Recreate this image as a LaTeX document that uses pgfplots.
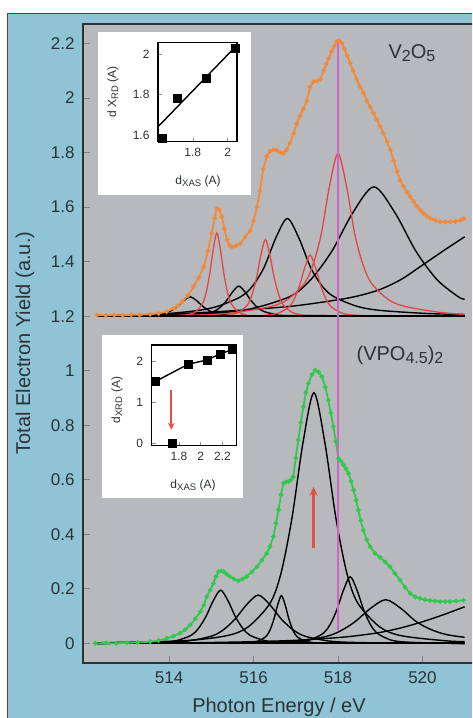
\documentclass[border=0pt]{standalone}
\usepackage{fontspec}
\setmainfont{Liberation Sans}
\usepackage{pgfplots}
\pgfplotsset{compat=1.18}
\usetikzlibrary{arrows.meta}

\definecolor{bgblue}{RGB}{142,196,214}
\definecolor{plotgray}{RGB}{183,185,188}
\definecolor{framered}{RGB}{140,40,60}
\definecolor{specorange}{RGB}{240,138,60}
\definecolor{specgreen}{RGB}{50,200,80}
\definecolor{peakred}{RGB}{226,70,70}
\definecolor{edgepink}{RGB}{205,100,200}
\definecolor{arrowred}{RGB}{225,80,70}
\definecolor{inktext}{RGB}{45,50,55}

\newcommand{\sub}[1]{\raisebox{-0.35ex}{\fontsize{16}{16}\selectfont #1}}
\newcommand{\isub}[1]{\raisebox{-0.3ex}{\fontsize{9.5}{9.5}\selectfont #1}}

\pgfplotsset{
  blackfit/.style={black, line width=1.4pt, smooth},
  redfit/.style={peakred, line width=1.3pt, smooth},
  inset/.style={
    anchor=south west, scale only axis,
    axis line style={black, line width=1.2pt},
    tick align=inside, xtick pos=left, ytick pos=left,
    major tick length=4pt, tick style={black!45, line width=0.6pt},
    ticklabel style={font=\fontsize{12}{12}\selectfont, text=inktext},
    xticklabel style={yshift=-3pt},
    yticklabel style={xshift=-5pt},
    /pgf/number format/assume math mode=true,
    clip=false,
  },
}

\begin{document}
\begin{tikzpicture}[x=1pt,y=1pt]
\useasboundingbox (0,0) rectangle (472,718);
\clip (0,0) rectangle (472,718);
\fill[white] (0,0) rectangle (472,718);
\fill[bgblue] (7,0) rectangle (472,704);
\draw[framered, line width=1pt] (7,0) -- (7,704) -- (472,704);

\begin{axis}[
  at={(83pt,55pt)}, anchor=south west, scale only axis,
  width=392pt, height=639pt,
  xmin=511.96, xmax=521.245, ymin=-0.0722, ymax=2.2714,
  axis background/.style={fill=plotgray},
  axis line style={inktext, line width=1.4pt},
  xtick={514,516,518,520},
  ytick={0,0.2,0.4,0.6,0.8,1,1.2,1.4,1.6,1.8,2,2.2},
  yticklabels={0,0.2,0.4,0.6,0.8,1,1.2,1.4,1.6,1.8,2,2.2},
  tick align=inside, xtick pos=left, ytick pos=left,
  major tick length=7pt, tick style={black!50, line width=0.9pt},
  ticklabel style={font=\fontsize{17}{17}\selectfont, text=inktext},
  xticklabel style={yshift=-5pt},
  yticklabel style={xshift=-5pt},
  /pgf/number format/assume math mode=true,
]
% ---------------- V2O5 fit components (baseline 1.2) ----------------
\addplot[blackfit] coordinates {(512.3,1.201) (513,1.203) (514,1.208) (515,1.215) (516,1.225) (517,1.238) (518,1.26) (518.5,1.275) (519,1.298) (519.5,1.335) (520,1.387) (520.5,1.44) (521,1.491)};
\addplot[blackfit] coordinates {(512.3,1.2) (513.3,1.2014) (513.6,1.2036) (513.9,1.2107) (514.05,1.220) (514.2,1.2355) (514.35,1.257) (514.5,1.271) (514.65,1.257) (514.8,1.2355) (514.95,1.220) (515.1,1.2107) (515.4,1.2036) (515.7,1.2014) (521,1.2)};
\addplot[blackfit] coordinates {(512.3,1.2) (514.45,1.2022) (514.75,1.2055) (515.05,1.2165) (515.2,1.231) (515.35,1.255) (515.5,1.288) (515.65,1.31) (515.8,1.288) (515.95,1.255) (516.1,1.231) (516.25,1.2165) (516.55,1.2055) (516.85,1.2022) (521,1.2)};
\addplot[blackfit] coordinates {(512.3,1.201) (513.5,1.204) (514.6,1.219) (515.15,1.236) (515.7,1.2716) (515.975,1.31) (516.25,1.379) (516.525,1.486) (516.8,1.558) (517.075,1.486) (517.35,1.379) (517.625,1.31) (517.9,1.2716) (518.45,1.236) (519.0,1.221) (520.1,1.2097) (521,1.206)};
\addplot[blackfit] coordinates {(512.3,1.201) (512.85,1.2024) (514.85,1.2095) (515.85,1.224) (516.85,1.271) (517.35,1.333) (517.85,1.437) (518.35,1.579) (518.85,1.674) (519.35,1.579) (519.85,1.437) (520.35,1.333) (520.85,1.271) (521,1.262)};
\addplot[redfit] coordinates {(512.3,1.2) (514.11,1.2015) (514.45,1.206) (514.62,1.215) (514.79,1.246) (514.875,1.285) (514.96,1.353) (515.045,1.444) (515.13,1.505) (515.215,1.444) (515.30,1.353) (515.385,1.285) (515.47,1.246) (515.64,1.215) (515.81,1.206) (516.15,1.2015) (521,1.2)};
\addplot[redfit] coordinates {(512.3,1.2) (515.02,1.2014) (515.44,1.2056) (515.65,1.214) (515.86,1.242) (515.965,1.279) (516.07,1.3405) (516.175,1.425) (516.28,1.481) (516.385,1.425) (516.49,1.3405) (516.595,1.279) (516.70,1.242) (516.91,1.214) (517.12,1.2056) (517.54,1.2014) (521,1.2)};
\addplot[redfit] coordinates {(512.3,1.2) (515.84,1.2011) (516.34,1.2045) (516.59,1.211) (516.84,1.234) (516.965,1.263) (517.09,1.312) (517.215,1.379) (517.34,1.424) (517.465,1.379) (517.59,1.312) (517.715,1.263) (517.84,1.234) (518.09,1.211) (518.34,1.2045) (518.84,1.2011) (521,1.2)};
\addplot[redfit] coordinates {(512.3,1.2) (514,1.202) (515.0,1.206) (515.6,1.214) (516.4,1.235) (516.8,1.26) (517.2,1.319) (517.4,1.385) (517.6,1.4985) (517.8,1.678) (518.0,1.797) (518.2,1.678) (518.4,1.4985) (518.6,1.385) (518.8,1.319) (519.2,1.26) (519.6,1.235) (520.4,1.214) (521,1.206)};
\addplot[black, line width=1.8pt] coordinates {(512.3,1.2) (521,1.2)};

% ---------------- (VPO4.5)2 fit components (baseline 0) ----------------
\addplot[blackfit] coordinates {(512.3,0) (514,0.001) (515,0.003) (516,0.006) (517,0.011) (518,0.021) (518.5,0.029) (519,0.04) (519.5,0.057) (520,0.079) (520.5,0.105) (521,0.134)};
\addplot[blackfit] coordinates {(512.3,0) (513.12,0.001) (513.82,0.0039) (514.17,0.0098) (514.52,0.029) (514.695,0.0546) (514.87,0.0975) (515.045,0.156) (515.22,0.195) (515.395,0.156) (515.57,0.0975) (515.745,0.0546) (515.92,0.029) (516.27,0.0098) (516.62,0.0039) (517.32,0.001) (521,0)};
\addplot[blackfit] coordinates {(512.3,0) (512.81,0.0009) (513.91,0.0035) (514.46,0.0089) (515.01,0.0266) (515.285,0.0496) (515.56,0.0885) (515.835,0.1416) (516.11,0.177) (516.385,0.1416) (516.66,0.0885) (516.935,0.0496) (517.21,0.0266) (517.76,0.0089) (518.31,0.0035) (519.41,0.0009) (521,0)};
\addplot[blackfit] coordinates {(512.3,0) (515.58,0.0009) (515.94,0.0035) (516.12,0.0088) (516.30,0.026) (516.39,0.049) (516.48,0.0875) (516.57,0.14) (516.66,0.175) (516.75,0.14) (516.84,0.0875) (516.93,0.049) (517.02,0.026) (517.2,0.0088) (517.38,0.0035) (517.74,0.0009) (521,0)};
\addplot[blackfit] coordinates {(512.3,0.002) (514.31,0.0092) (515.35,0.0276) (515.87,0.060) (516.39,0.147) (516.65,0.257) (516.91,0.4595) (517.17,0.735) (517.43,0.919) (517.69,0.735) (517.95,0.4595) (518.21,0.257) (518.47,0.147) (518.99,0.060) (519.51,0.0276) (520.55,0.0092) (521,0.006)};
\addplot[blackfit] coordinates {(512.3,0) (516.37,0.0012) (517.01,0.005) (517.33,0.0122) (517.65,0.0366) (517.81,0.068) (517.97,0.122) (518.13,0.195) (518.29,0.244) (518.45,0.195) (518.61,0.122) (518.77,0.068) (518.93,0.0366) (519.25,0.0122) (519.57,0.005) (520.21,0.0012) (521,0)};
\addplot[blackfit] coordinates {(512.3,0) (515.5,0.001) (516.25,0.0032) (516.97,0.008) (517.69,0.024) (518.05,0.0448) (518.41,0.08) (518.77,0.128) (519.13,0.16) (519.49,0.128) (519.85,0.08) (520.21,0.05) (520.57,0.032) (521,0.022)};
\addplot[black, line width=1.8pt] coordinates {(512.3,0) (521,0)};

% ---------------- measured spectra ----------------
\addplot[specorange, line width=1.8pt, mark=*, mark size=1.3pt] coordinates {
(512.29,1.204) (512.5,1.203) (512.7,1.204) (512.9,1.203) (513.1,1.205) (513.3,1.205)
(513.55,1.207) (513.75,1.210) (513.94,1.216) (514.1,1.228) (514.2,1.238) (514.31,1.253)
(514.45,1.276) (514.58,1.308) (514.7,1.340) (514.82,1.381) (514.92,1.44) (515.01,1.504)
(515.08,1.56) (515.13,1.595) (515.19,1.59) (515.25,1.565) (515.31,1.52) (515.37,1.48)
(515.43,1.46) (515.49,1.454) (515.58,1.458) (515.68,1.466) (515.8,1.49) (515.92,1.513)
(516.0,1.55) (516.08,1.60) (516.15,1.66) (516.23,1.74) (516.31,1.785) (516.39,1.805)
(516.47,1.81) (516.55,1.808) (516.63,1.80) (516.71,1.797) (516.78,1.81) (516.86,1.834)
(516.95,1.87) (517.02,1.905) (517.10,1.935) (517.18,1.96) (517.26,1.99) (517.34,2.04)
(517.42,2.06) (517.5,2.063) (517.58,2.068) (517.66,2.10) (517.72,2.125) (517.78,2.145)
(517.85,2.17) (517.91,2.19) (517.97,2.207) (518.03,2.21) (518.09,2.201) (518.15,2.18)
(518.22,2.155) (518.29,2.127) (518.36,2.10) (518.44,2.07) (518.52,2.042) (518.6,2.02)
(518.68,1.99) (518.76,1.968) (518.84,1.945) (518.92,1.92) (519.0,1.895) (519.08,1.87)
(519.16,1.84) (519.24,1.809) (519.32,1.77) (519.4,1.73) (519.47,1.699) (519.55,1.675)
(519.63,1.655) (519.71,1.638) (519.79,1.62) (519.87,1.603) (519.95,1.589) (520.03,1.577)
(520.11,1.566) (520.19,1.558) (520.3,1.551) (520.42,1.546) (520.54,1.545) (520.66,1.546)
(520.78,1.547) (520.9,1.552) (520.98,1.558)};
\addplot[specgreen, line width=1.8pt, mark=*, mark size=1.3pt] coordinates {
(512.25,0.0) (512.5,0.001) (512.75,0.0) (513.0,0.002) (513.25,0.003) (513.55,0.006)
(513.75,0.01) (513.94,0.018) (514.1,0.026) (514.26,0.037) (514.38,0.05) (514.5,0.067)
(514.62,0.09) (514.74,0.116) (514.82,0.14) (514.89,0.171) (514.97,0.195) (515.05,0.22)
(515.11,0.245) (515.17,0.263) (515.23,0.265) (515.29,0.263) (515.36,0.254) (515.44,0.245)
(515.54,0.236) (515.64,0.23) (515.74,0.236) (515.84,0.245) (515.96,0.262) (516.08,0.281)
(516.2,0.305) (516.31,0.33) (516.39,0.355) (516.47,0.391) (516.53,0.44) (516.59,0.489)
(516.65,0.545) (516.71,0.587) (516.77,0.592) (516.83,0.593) (516.89,0.60) (516.94,0.611)
(517.0,0.68) (517.06,0.746) (517.12,0.81) (517.18,0.868) (517.24,0.92) (517.30,0.953)
(517.38,0.985) (517.46,1.002) (517.54,0.995) (517.62,0.978) (517.70,0.94) (517.77,0.892)
(517.83,0.845) (517.89,0.795) (517.95,0.74) (518.01,0.678) (518.07,0.668) (518.13,0.654)
(518.19,0.64) (518.25,0.623) (518.31,0.595) (518.37,0.562) (518.43,0.525) (518.48,0.489)
(518.54,0.45) (518.6,0.415) (518.68,0.38) (518.76,0.355) (518.88,0.33) (519.0,0.315)
(519.12,0.298) (519.23,0.281) (519.35,0.256) (519.47,0.232) (519.59,0.205) (519.71,0.183)
(519.83,0.17) (519.94,0.165) (520.06,0.16) (520.18,0.157) (520.3,0.155) (520.42,0.153)
(520.54,0.153) (520.65,0.153) (520.8,0.155) (520.97,0.158)};

% edge position and intensity-change arrow
\addplot[edgepink, line width=1.6pt] coordinates {(518,0.05) (518,2.21)};
\addplot[arrowred, line width=2.2pt, -{Stealth[length=9pt,width=8pt]}] coordinates {(517.42,0.348) (517.42,0.574)};
\end{axis}

\node[text=inktext, font=\fontsize{20}{20}\selectfont] at (412,665) {V\sub{2}O\sub{5}};
\node[text=inktext, font=\fontsize{20}{20}\selectfont] at (400,363) {(VPO\sub{4.5})\sub{2}};
\node[text=inktext, font=\fontsize{20}{20}\selectfont, rotate=90] at (25,375) {Total Electron Yield (a.u.)};
\node[text=inktext, font=\fontsize{20}{20}\selectfont] at (279,11) {Photon Energy / eV};

% ---------------- upper inset ----------------
\fill[white] (97.7,523) rectangle (250.7,686.3);
\begin{axis}[inset, at={(158pt,576.3pt)}, width=79pt, height=99pt,
  xmin=1.6, xmax=2.054, ymin=1.567, ymax=2.058,
  xtick={1.8,2}, ytick={1.6,1.8,2}]
\addplot[black, line width=1.4pt] coordinates {(1.6,1.641) (2.054,2.046)};
\addplot[only marks, mark=square*, mark size=4pt, black] coordinates {(1.623,1.585) (1.713,1.783) (1.875,1.882) (2.044,2.03)};
\end{axis}
\node[text=inktext, font=\fontsize{12}{12}\selectfont, rotate=90] at (113,626) {d X\isub{RD} (A)};
\node[text=inktext, font=\fontsize{12}{12}\selectfont] at (198,537) {d\isub{XAS} (A)};

% ---------------- lower inset ----------------
\fill[white] (101.7,220.3) rectangle (243.3,383);
\begin{axis}[inset, at={(151.7pt,272.3pt)}, width=85pt, height=100.7pt,
  xmin=1.55, xmax=2.33, ymin=-0.06, ymax=2.41,
  xtick={1.8,2,2.2}, ytick={0,1,2}]
\addplot[black, line width=1.4pt] coordinates {(1.58,1.51) (1.886,1.94) (2.055,2.04) (2.177,2.19) (2.29,2.30)};
\addplot[only marks, mark=square*, mark size=4pt, black] coordinates {(1.58,1.51) (1.886,1.94) (2.055,2.04) (2.177,2.19) (2.29,2.30) (1.74,0.01)};
\addplot[arrowred, line width=2pt, -{Stealth[length=7pt,width=6.5pt]}] coordinates {(1.73,1.30) (1.73,0.33)};
\end{axis}
\node[text=inktext, font=\fontsize{12}{12}\selectfont, rotate=90] at (117,318) {d\isub{XRD} (A)};
\node[text=inktext, font=\fontsize{12}{12}\selectfont] at (193,233) {d\isub{XAS} (A)};
\end{tikzpicture}
\end{document}
